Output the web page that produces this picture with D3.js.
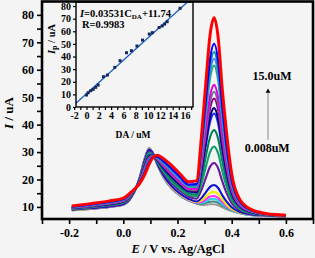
<!DOCTYPE html>
<html>
<head>
<meta charset="utf-8">
<style>
  body { margin: 0; background: #f4f4f4; }
  svg { display: block; }
  text { font-family: "Liberation Serif", "Times New Roman", serif; font-weight: bold; fill: #000; }
</style>
</head>
<body>
<script src="https://cdn.jsdelivr.net/npm/d3@7"></script>
<script>

// data ///////////////////////////////////////////////////////////////////////

// potential grid (V vs Ag/AgCl), shared by all DPV curves
var potential = [-0.19, -0.12, -0.05, 0.0, 0.03, 0.06, 0.08, 0.095, 0.11, 0.125, 0.15, 0.18, 0.21, 0.24,
                 0.27, 0.29, 0.305, 0.32, 0.335, 0.35, 0.365, 0.38, 0.40, 0.43, 0.47, 0.53, 0.6];

// current (uA), lowest DA concentration first, 15.0 uM last
var currents = [
  [8.8, 9.3, 10.0, 10.8, 13.5, 20.5, 28.0, 31.5, 29.5, 25.5, 20.5, 16.5, 14.0, 12.3, 11.2, 10.7, 10.8, 11.0, 11.0, 10.6, 9.9, 9.2, 8.5, 7.7, 7.1, 6.8, 6.6],
  [8.8, 9.3, 10.0, 10.8, 13.5, 20.5, 27.9, 31.4, 29.5, 25.6, 20.6, 16.7, 14.2, 12.4, 11.4, 11.2, 11.5, 11.9, 12.0, 11.5, 10.6, 9.7, 8.7, 7.8, 7.1, 6.8, 6.6],
  [8.9, 9.4, 10.1, 10.9, 13.6, 20.4, 27.8, 31.3, 29.5, 25.6, 20.7, 16.8, 14.2, 12.5, 11.5, 11.5, 12.1, 12.8, 13.0, 12.4, 11.1, 10.0, 8.9, 7.8, 7.1, 6.8, 6.6],
  [8.9, 9.4, 10.1, 10.9, 13.6, 20.4, 27.7, 31.2, 29.4, 25.7, 20.9, 16.9, 14.4, 12.6, 11.6, 11.9, 12.8, 13.8, 14.0, 13.3, 11.8, 10.4, 9.1, 8.0, 7.2, 6.8, 6.6],
  [8.9, 9.4, 10.2, 11.0, 13.6, 20.4, 27.6, 31.1, 29.4, 25.7, 21.0, 17.1, 14.6, 12.8, 11.8, 12.5, 13.8, 15.1, 15.5, 14.7, 12.8, 11.0, 9.3, 8.0, 7.3, 6.9, 6.6],
  [9.0, 9.5, 10.2, 11.0, 13.7, 20.3, 27.4, 30.9, 29.4, 25.8, 21.2, 17.4, 14.8, 13.0, 12.0, 13.4, 15.4, 17.3, 18.0, 16.9, 14.3, 12.1, 9.9, 8.2, 7.3, 6.9, 6.6],
  [9.1, 9.7, 10.5, 11.3, 13.9, 20.1, 26.7, 30.2, 29.2, 26.2, 22.0, 18.4, 15.8, 13.8, 13.0, 16.6, 20.7, 24.6, 26.0, 24.1, 19.4, 15.3, 11.4, 8.8, 7.6, 7.0, 6.7],
  [9.3, 9.9, 10.7, 11.5, 14.1, 19.9, 26.1, 29.6, 29.0, 26.5, 22.7, 19.1, 16.5, 14.4, 13.8, 19.0, 24.7, 30.0, 32.0, 29.5, 23.2, 17.7, 12.5, 9.2, 7.8, 7.0, 6.7],
  [9.4, 10.1, 10.9, 11.8, 14.3, 19.7, 25.6, 29.1, 28.9, 26.8, 23.3, 19.9, 17.2, 15.1, 14.5, 21.4, 28.7, 35.4, 38.0, 34.9, 27.0, 20.1, 13.7, 9.7, 8.0, 7.1, 6.8],
  [9.5, 10.2, 11.1, 12.0, 14.5, 19.5, 25.1, 28.6, 28.8, 27.1, 23.9, 20.7, 17.9, 15.7, 15.3, 23.8, 32.7, 40.9, 44.0, 40.4, 30.9, 22.6, 14.9, 10.1, 8.2, 7.1, 6.8],
  [9.6, 10.3, 11.1, 12.0, 14.5, 19.5, 24.9, 28.4, 28.7, 27.2, 24.1, 20.8, 18.1, 15.8, 15.4, 24.5, 33.8, 42.7, 46.0, 42.1, 32.1, 23.4, 15.2, 10.3, 8.2, 7.2, 6.8],
  [9.7, 10.4, 11.3, 12.2, 14.6, 19.4, 24.6, 28.1, 28.6, 27.4, 24.5, 21.4, 18.6, 16.2, 15.9, 25.9, 36.3, 45.9, 49.5, 45.3, 34.3, 24.8, 15.9, 10.5, 8.3, 7.2, 6.8],
  [9.7, 10.4, 11.3, 12.2, 14.7, 19.3, 24.4, 27.9, 28.6, 27.5, 24.7, 21.6, 18.8, 16.4, 16.2, 26.9, 37.8, 48.1, 52.0, 47.5, 36.0, 25.9, 16.4, 10.7, 8.4, 7.2, 6.8],
  [9.8, 10.5, 11.4, 12.3, 14.8, 19.2, 24.2, 27.7, 28.5, 27.6, 25.0, 21.9, 19.1, 16.7, 16.5, 27.9, 39.5, 50.4, 54.5, 49.8, 37.5, 26.9, 16.9, 10.9, 8.5, 7.3, 6.9],
  [9.9, 10.7, 11.6, 12.6, 15.0, 19.0, 23.6, 27.1, 28.4, 27.9, 25.7, 22.8, 19.9, 17.4, 17.3, 30.6, 44.2, 56.8, 61.5, 56.1, 41.9, 29.7, 18.3, 11.5, 8.7, 7.3, 6.9],
  [10.0, 10.8, 11.7, 12.7, 15.1, 18.9, 23.3, 26.8, 28.3, 28.1, 26.0, 23.1, 20.2, 17.7, 17.7, 31.7, 45.8, 59.0, 64.0, 58.3, 43.5, 30.7, 18.8, 11.6, 8.7, 7.4, 6.9],
  [10.0, 10.9, 11.8, 12.8, 15.1, 18.9, 23.1, 26.6, 28.3, 28.2, 26.2, 23.5, 20.6, 18.0, 18.0, 32.7, 47.5, 61.2, 66.5, 60.5, 45.2, 31.7, 19.2, 11.8, 8.9, 7.4, 6.9],
  [10.1, 10.9, 11.9, 12.9, 15.2, 18.8, 22.8, 26.3, 28.2, 28.3, 26.5, 23.8, 20.9, 18.2, 18.3, 33.8, 49.4, 63.9, 69.5, 63.2, 47.0, 32.9, 19.8, 12.0, 8.9, 7.4, 6.9],
  [10.3, 11.2, 12.2, 13.2, 15.5, 18.5, 22.0, 25.5, 28.0, 28.8, 27.5, 25.0, 22.0, 19.2, 19.5, 37.6, 55.7, 72.6, 79.0, 71.8, 53.1, 38.0, 22.0, 12.7, 9.2, 7.5, 7.0]
];

var curveColors = ["#9a9a9a", "#3c8c8c", "#30d0e0", "#ff30ff", "#f0f000", "#1010d0", "#6a1a9a",
                   "#10a070", "#008050", "#2030ff", "#000080", "#800080", "#707090", "#e000e0",
                   "#20b070", "#5080ff", "#0090b0", "#0000ff", "#ff0000"];

// inset: peak current against DA concentration
var caConc = [0.0, 0.28, 0.7, 1.1, 1.5, 1.9, 2.76, 3.4, 4.6, 5.46, 6.5, 7.3, 8.2, 9.1, 10.2, 10.7, 11.8, 12.3, 12.7, 13.1, 15.2];
var caIp   = [9.5, 11.3, 12.9, 14.0, 15.6, 17.4, 24.0, 25.3, 31.4, 36.7, 43.0, 44.6, 48.3, 53.0, 57.8, 58.9, 63.0, 64.2, 65.7, 67.6, 78.2];
var fitLine = [[-1.7, 2.9], [16.4, 83.2]];

var xTicks  = [-0.3, -0.2, -0.1, 0.0, 0.1, 0.2, 0.3, 0.4, 0.5, 0.6, 0.7];
var yTicks  = d3.range(10, 81, 5);
var ixTicks = d3.range(-2, 18, 1);
var iyTicks = d3.range(0, 81, 10);

// main chart /////////////////////////////////////////////////////////////////

var W = 315, H = 258;
var svg = d3.select('body').append('svg')
    .attr('width', W)
    .attr('height', H);

var x = d3.scaleLinear().domain([-0.3, 0.7]).range([42, 313]);
var y = d3.scaleLinear().domain([5.6, 84.7]).range([219, 2]);

var line = d3.line()
    .x((d, i) => x(potential[i]))
    .y(d => y(d))
    .curve(d3.curveMonotoneX);

svg.append('g')
  .selectAll('path')
  .data(currents)
  .join('path')
    .attr('d', line)
    .attr('fill', 'none')
    .attr('stroke', (d, i) => curveColors[i])
    .attr('stroke-width', (d, i) => i === currents.length - 1 ? 3 : 2.1);

var xAxis = svg.append('g')
    .attr('transform', `translate(0,219)`)
    .call(d3.axisBottom(x)
      .tickValues(xTicks)
      .tickFormat(d => Math.round(d * 10) % 2 === 0 ? d.toFixed(1) : '')
      .tickSize(5).tickPadding(4));

var yAxis = svg.append('g')
    .attr('transform', `translate(42,0)`)
    .call(d3.axisLeft(y)
      .tickValues(yTicks)
      .tickFormat(d => d % 10 === 0 ? d : '')
      .tickSize(5).tickPadding(3));

[xAxis, yAxis].forEach(g => {
  g.select('.domain').remove();
  g.selectAll('line').attr('stroke-width', 1.6);
  g.selectAll('text').attr('font-size', 12).attr('font-family', null);
});

svg.append('rect')
    .attr('x', 42).attr('y', 1.5)
    .attr('width', 271).attr('height', 217.5)
    .attr('fill', 'none')
    .attr('stroke', '#000')
    .attr('stroke-width', 2.6);

// axis titles
var yt = svg.append('text')
    .attr('transform', 'translate(13,113) rotate(-90)')
    .attr('text-anchor', 'middle')
    .attr('font-size', 13);
yt.append('tspan').attr('font-style', 'italic').text('I');
yt.append('tspan').text(' / uA');

var xt = svg.append('text')
    .attr('x', 178).attr('y', 253)
    .attr('text-anchor', 'middle')
    .attr('font-size', 12.5);
xt.append('tspan').attr('font-style', 'italic').text('E');
xt.append('tspan').text(' / V vs. Ag/AgCl');

// concentration arrow
svg.append('line')
    .attr('x1', x(0.534)).attr('x2', x(0.534))
    .attr('y1', y(34.5)).attr('y2', y(52.5))
    .attr('stroke', '#999')
    .attr('stroke-width', 1.2);
svg.append('path')
    .attr('d', d3.symbol(d3.symbolTriangle, 10)())
    .attr('transform', `translate(${x(0.534)},${y(52.5) + 1})`)
    .attr('fill', '#000');

svg.append('text')
    .attr('x', x(0.549)).attr('y', y(56.3))
    .attr('text-anchor', 'middle')
    .attr('font-size', 12)
    .text('15.0uM');
svg.append('text')
    .attr('x', x(0.531)).attr('y', y(30.0))
    .attr('text-anchor', 'middle')
    .attr('font-size', 12)
    .text('0.008uM');

// inset //////////////////////////////////////////////////////////////////////

var ix = d3.scaleLinear().domain([-1.7, 17.3]).range([76, 193]);
var iy = d3.scaleLinear().domain([0, 83.2]).range([107, 2]);

var inset = svg.append('g');

inset.append('line')
    .attr('x1', ix(fitLine[0][0])).attr('y1', iy(fitLine[0][1]))
    .attr('x2', ix(fitLine[1][0])).attr('y2', iy(fitLine[1][1]))
    .attr('stroke', '#1a5fc8')
    .attr('stroke-width', 1.3);

inset.selectAll('rect.pt')
  .data(caConc)
  .join('rect')
    .attr('class', 'pt')
    .attr('x', d => ix(d) - 1.5)
    .attr('y', (d, i) => iy(caIp[i]) - 1.5)
    .attr('width', 3).attr('height', 3)
    .attr('fill', '#14285a');

var ixAxis = inset.append('g')
    .attr('transform', 'translate(0,107)')
    .call(d3.axisBottom(ix)
      .tickValues(ixTicks)
      .tickFormat(d => d % 2 === 0 ? d : '')
      .tickSize(3).tickPadding(2));

var iyAxis = inset.append('g')
    .attr('transform', 'translate(76,0)')
    .call(d3.axisLeft(iy)
      .tickValues(iyTicks)
      .tickSize(3).tickPadding(2));

[ixAxis, iyAxis].forEach(g => {
  g.select('.domain').remove();
  g.selectAll('line').attr('stroke-width', 1.2);
  g.selectAll('text').attr('font-size', 10).attr('font-family', null);
});

inset.append('rect')
    .attr('x', 76).attr('y', 2)
    .attr('width', 117).attr('height', 105)
    .attr('fill', 'none')
    .attr('stroke', '#000')
    .attr('stroke-width', 1.4);

var eq = inset.append('text')
    .attr('x', 80).attr('y', 17)
    .attr('font-size', 10.5);
eq.append('tspan').attr('font-style', 'italic').text('I');
eq.append('tspan').text('=0.03531C');
eq.append('tspan').attr('font-size', 7).attr('dy', 2).text('DA');
eq.append('tspan').attr('dy', -2).text('+11.74');

inset.append('text')
    .attr('x', 82).attr('y', 28)
    .attr('font-size', 10.5)
    .text('R=0.9983');

var it = inset.append('text')
    .attr('transform', 'translate(55,39) rotate(-90)')
    .attr('text-anchor', 'middle')
    .attr('font-size', 10.5);
it.append('tspan').attr('font-style', 'italic').text('I');
it.append('tspan').attr('font-size', 8).attr('dy', 2).text('p');
it.append('tspan').attr('dy', -2).text(' / uA');

inset.append('text')
    .attr('x', 133).attr('y', 138)
    .attr('text-anchor', 'middle')
    .attr('font-size', 9.5)
    .text('DA / uM');

</script>
</body>
</html>
